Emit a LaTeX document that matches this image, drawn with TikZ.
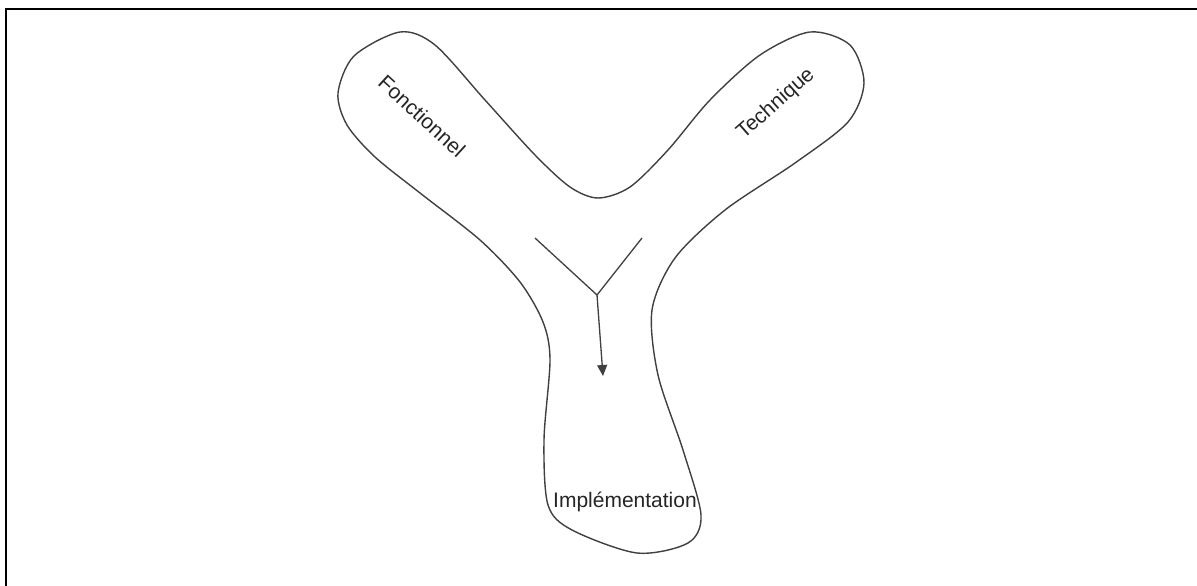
\documentclass[tikz,border=0pt]{standalone}
\usepackage{fontspec}
\setmainfont{Liberation Sans}
\usetikzlibrary{arrows.meta}
\begin{document}
\begin{tikzpicture}[x=1pt,y=-1pt,
  outline/.style={draw=black!75, line width=1.4pt},
  ymark/.style={draw=black!75, line width=1.3pt},
  lbl/.style={font=\fontsize{21}{25}\selectfont, text=black!85, inner sep=0pt},
  frameline/.style={draw=black, line width=2.3pt}]
\useasboundingbox (0,0) rectangle (1197,586);
\fill[white] (0,0) rectangle (1197,586);
% frame (only top and left edges visible)
\draw[frameline] (1197,9) -- (6,9) -- (6,586);
% Y-shaped outline
\draw[outline] plot[smooth cycle, tension=0.5] coordinates {
  (400,32) (435,45) (485,100) (535,155) (570,187) (598,198) (630,187) (668,150)
  (710,100) (760,55) (810,32) (850,45) (864,83) (848,122) (795,163) (725,210)
  (675,258) (652,310) (658,375) (683,450) (701,515) (688,543) (637,553)
  (572,530) (548,505) (544,440) (550,360) (543,322) (520,282) (480,240)
  (420,193) (375,157) (347,125) (338,93) (354,56)};
% inner Y mark and arrow
\coordinate (vl) at (535,238);
\coordinate (vr) at (642,238);
\coordinate (vj) at (597,295);
\coordinate (ve) at (603,376);
\draw[ymark] (vl) -- (vj) -- (vr);
\draw[ymark, -{Triangle[width=10pt,length=11pt]}] (vj) -- (ve);
% labels
\node[lbl, rotate=-42.5] (fonc) at (422,116) {Fonctionnel};
\node[lbl, rotate=41.5] (tech) at (776,104) {Technique};
\node[lbl, anchor=base west] (impl) at (553,507) {Implémentation};
\end{tikzpicture}
\end{document}
